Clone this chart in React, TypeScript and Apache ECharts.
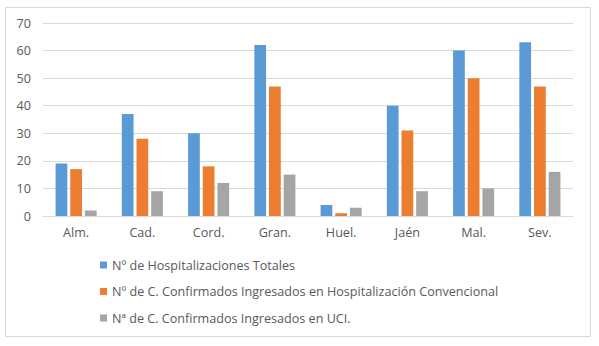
import React, { useEffect, useRef } from "react";
import * as echarts from "echarts";

const categories = ["Alm.", "Cad.", "Cord.", "Gran.", "Huel.", "Jaén", "Mal.", "Sev."];
const totales = [19, 37, 30, 62, 4, 40, 60, 63];
const convencional = [17, 28, 18, 47, 1, 31, 50, 47];
const uci = [2, 9, 12, 15, 3, 9, 10, 16];
const seriesNames = [
  "Nº de Hospitalizaciones Totales",
  "Nº de C. Confirmados Ingresados en Hospitalización Convencional",
  "Nª de C. Confirmados Ingresados en UCI.",
];
const colors = ["#5B9BD5", "#ED7D31", "#A5A5A5"];

export default function App() {
  const ref = useRef<HTMLDivElement>(null);
  useEffect(() => {
    if (!ref.current) return;
    const chart = echarts.init(ref.current, null, { renderer: "svg" });
    const font = "'Open Sans', 'Noto Sans', sans-serif";
    const data = [totales, convencional, uci];
    chart.setOption({
      animation: false,
      textStyle: { fontFamily: font },
      graphic: [
        {
          type: "rect",
          shape: { x: 5.5, y: 7.5, width: 585, height: 329 },
          style: { fill: "none", stroke: "#D9D9D9", lineWidth: 1 },
          silent: true,
        },
      ],
      grid: { left: 43, right: 26, top: 23, height: 193 },
      xAxis: {
        type: "category",
        data: categories,
        axisLine: { lineStyle: { color: "#D9D9D9" } },
        axisTick: { show: false },
        axisLabel: { color: "#595959", fontSize: 12.6, margin: 10, fontFamily: font },
      },
      yAxis: {
        type: "value",
        min: 0,
        max: 70,
        interval: 10,
        axisLine: { show: false },
        axisTick: { show: false },
        splitLine: { lineStyle: { color: "#D9D9D9" } },
        axisLabel: { color: "#595959", fontSize: 12.6, margin: 12, fontFamily: font },
      },
      legend: {
        orient: "vertical",
        left: 100,
        top: 258,
        padding: 0,
        itemWidth: 7,
        itemHeight: 7,
        itemGap: 12.5,
        icon: "rect",
        textStyle: { color: "#595959", fontSize: 12.6, lineHeight: 14, fontFamily: font },
        data: seriesNames,
      },
      series: seriesNames.map((name, i) => ({
        name,
        type: "bar",
        data: data[i],
        itemStyle: { color: colors[i] },
        barGap: "25%",
        barCategoryGap: "38%",
      })),
    });
    return () => chart.dispose();
  }, []);
  return <div ref={ref} style={{ width: 599, height: 346, position: "absolute", left: 0, top: 0 }} />;
}
